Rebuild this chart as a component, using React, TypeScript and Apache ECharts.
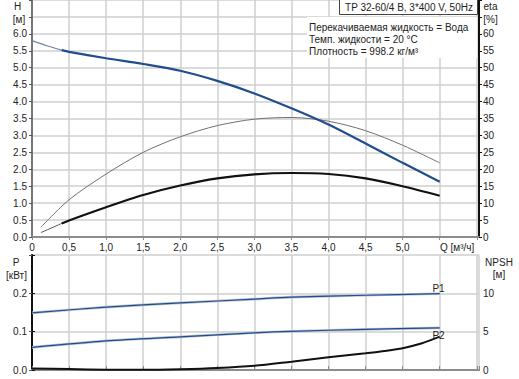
import React, { useEffect, useRef } from "react";
import * as echarts from "echarts";

// ---- Data ----
const qHeadThin = [0, 0.2, 0.4];
const headThin = [5.8, 5.65, 5.52];
const qHead = [0.4, 0.5, 1.0, 1.5, 2.0, 2.5, 3.0, 3.5, 4.0, 4.5, 5.0, 5.5];
const head = [5.52, 5.47, 5.28, 5.11, 4.91, 4.61, 4.24, 3.8, 3.32, 2.76, 2.19, 1.63];

const qEtaPump = [0.12, 0.5, 1.0, 1.5, 2.0, 2.5, 3.0, 3.5, 4.0, 4.5, 5.0, 5.5];
const etaPump = [2.9, 11.0, 18.6, 25.0, 29.6, 32.9, 34.8, 35.3, 34.2, 31.4, 27.1, 21.9];

const qEtaTotalThin = [0.12, 0.4];
const etaTotalThin = [1.3, 4.0];
const qEtaTotal = [0.4, 0.5, 1.0, 1.5, 2.0, 2.5, 3.0, 3.5, 4.0, 4.5, 5.0, 5.5];
const etaTotal = [4.0, 4.9, 8.8, 12.4, 15.2, 17.3, 18.5, 18.9, 18.6, 17.3, 15.0, 12.2];

const qPower = [0, 1, 2, 3, 3.5, 4.5, 5.5];
const powerP1 = [0.149, 0.164, 0.175, 0.185, 0.19, 0.195, 0.199];
const powerP2 = [0.059, 0.076, 0.0865, 0.097, 0.101, 0.106, 0.11];

const qNpsh = [0, 0.5, 1.0, 1.5, 2.0, 2.5, 3.0, 3.5, 4.0, 4.5, 4.75, 5.0, 5.25, 5.5];
const npsh = [0.2, 0.12, 0.04, 0.02, 0.1, 0.26, 0.55, 1.09, 1.66, 2.18, 2.48, 2.85, 3.45, 4.35];

const title = "TP 32-60/4 B, 3*400 V, 50Hz";
const infoLines = [
  "Перекачиваемая жидкость = Вода",
  "Темп. жидкости = 20 °C",
  "Плотность = 998.2 кг/м³",
];

const zip = (xs: number[], ys: number[]) => xs.map((x, i) => [x, ys[i]]);

const FONT = '"Liberation Sans", Arial, sans-serif';
const FS = 10;
const TXT = "#222";
const GRIDC = "#cfcfcf";

export default function App() {
  const ref = useRef<HTMLDivElement>(null);
  useEffect(() => {
    if (!ref.current) return;
    const chart = echarts.init(ref.current, undefined, { renderer: "svg" });
    const split = { show: true, lineStyle: { color: GRIDC, width: 1.5 } };
    const lab = { color: TXT, fontSize: FS, fontFamily: FONT };
    const txt = (text: string, x: number, y: number, align = "center") => ({
      type: "text",
      x,
      y,
      z: 100,
      style: { text, font: `${FS}px ${FONT}`, fill: TXT, align, verticalAlign: "middle" },
    });
    const xFmt = (v: number) => {
      if (v === 0) return "0";
      if (v > 5.25) return "";
      return v.toFixed(1).replace(".", ",");
    };
    const line = (
      name: string,
      data: number[][],
      xi: number,
      yi: number,
      color: string,
      width: number,
      z = 2
    ) => ({
      name,
      type: "line",
      xAxisIndex: xi,
      yAxisIndex: yi,
      data,
      smooth: 0.3,
      symbol: "none",
      z,
      lineStyle: { color, width },
    });
    chart.setOption({
      animation: false,
      grid: [
        { left: 32, right: 40, top: 0, height: 237 },
        { left: 32, right: 40, top: 255, height: 115 },
      ],
      xAxis: [
        {
          gridIndex: 0,
          type: "value",
          min: 0,
          max: 6.03,
          interval: 0.5,
          axisLine: { show: true, lineStyle: { color: "#8c8c8c", width: 2 } },
          axisTick: { show: true, length: 3, lineStyle: { color: "#8c8c8c" } },
          axisLabel: { ...lab, margin: 5, formatter: xFmt, showMaxLabel: false },
          splitLine: split,
        },
        {
          gridIndex: 1,
          type: "value",
          min: 0,
          max: 6.03,
          interval: 0.5,
          axisLine: { show: true, lineStyle: { color: "#8c8c8c", width: 2 } },
          axisTick: { show: false },
          axisLabel: { show: false },
          splitLine: split,
        },
        {
          gridIndex: 1,
          type: "value",
          position: "top",
          min: 0,
          max: 6.03,
          interval: 0.5,
          axisLine: { show: true, lineStyle: { color: "#8c8c8c", width: 2 } },
          axisTick: { show: true, length: 4, lineStyle: { color: "#8c8c8c" } },
          axisLabel: { show: false },
          splitLine: { show: false },
        },
      ],
      yAxis: [
        {
          gridIndex: 0,
          type: "value",
          min: 0,
          max: 7,
          interval: 0.5,
          axisLine: { show: true, lineStyle: { color: "#555", width: 1.5 } },
          axisTick: { show: true, length: 3, lineStyle: { color: "#555" } },
          axisLabel: { ...lab, margin: 5, formatter: (v: number) => (v <= 6.01 ? v.toFixed(1) : "") },
          splitLine: split,
        },
        {
          gridIndex: 0,
          type: "value",
          position: "right",
          min: 0,
          max: 70,
          interval: 5,
          axisLine: { show: true, lineStyle: { color: "#111", width: 2 } },
          axisTick: { show: true, length: 3, lineStyle: { color: "#111" } },
          axisLabel: { ...lab, margin: 4, formatter: (v: number) => (v <= 60 ? String(v) : "") },
          splitLine: { show: false },
        },
        {
          gridIndex: 1,
          type: "value",
          min: 0,
          max: 0.3,
          interval: 0.1,
          axisLine: { show: true, lineStyle: { color: "#555", width: 1.5 } },
          axisTick: { show: true, length: 3, lineStyle: { color: "#555" } },
          axisLabel: { ...lab, margin: 5, formatter: (v: number) => (v < 0.25 ? v.toFixed(1) : "") },
          splitLine: split,
        },
        {
          gridIndex: 1,
          type: "value",
          position: "right",
          min: 0,
          max: 15,
          interval: 5,
          axisLine: { show: true, lineStyle: { color: "#111", width: 2 } },
          axisTick: { show: true, length: 3, lineStyle: { color: "#111" } },
          axisLabel: { ...lab, margin: 4, formatter: (v: number) => (v <= 10 ? String(v) : "") },
          splitLine: { show: false },
        },
      ],
      series: [
        line("H thin", zip(qHeadThin, headThin), 0, 0, "#6f83a3", 1.2),
        line("H", zip(qHead, head), 0, 0, "#1f4e8d", 2.2, 3),
        line("eta pump", zip(qEtaPump, etaPump), 0, 1, "#707070", 1),
        line("eta total thin", zip(qEtaTotalThin, etaTotalThin), 0, 1, "#555", 1),
        line("eta total", zip(qEtaTotal, etaTotal), 0, 1, "#111", 2.2),
        line("P1 halo", zip(qPower, powerP1), 1, 2, "#bcc3cf", 2.6, 1),
        line("P1", zip(qPower, powerP1), 1, 2, "#1f4e8d", 1.2, 2),
        line("P2 halo", zip(qPower, powerP2), 1, 2, "#bcc3cf", 2.6, 1),
        line("P2", zip(qPower, powerP2), 1, 2, "#1f4e8d", 1.2, 2),
        line("NPSH", zip(qNpsh, npsh), 1, 3, "#111", 2, 3),
      ],
      graphic: [
        {
          type: "rect",
          z: 90,
          shape: { x: 307, y: 17, width: 170, height: 41 },
          style: { fill: "#fff" },
        },
        {
          type: "rect",
          z: 90,
          shape: { x: 339.5, y: -1.5, width: 138, height: 16 },
          style: { fill: "#fff", stroke: "#444", lineWidth: 1 },
        },
        txt(title, 409, 7.5),
        txt(infoLines[0], 309, 27, "left"),
        txt(infoLines[1], 309, 39.5, "left"),
        txt(infoLines[2], 309, 51.7, "left"),
        txt("H", 17.5, 6.5),
        txt("[м]", 19, 19),
        txt("eta", 490.5, 6.5),
        txt("[%]", 490.5, 19),
        txt("Q [м³/ч]", 440, 247, "left"),
        txt("P", 16, 262),
        txt("[кВт]", 16.5, 275),
        txt("NPSH", 499, 262),
        txt("[м]", 499, 274.5),
        txt("P1", 438.5, 288),
        txt("P2", 438.5, 335),
      ],
    });
    return () => chart.dispose();
  }, []);
  return (
    <div
      ref={ref}
      style={{ position: "absolute", left: 0, top: 0, width: 519, height: 379 }}
    />
  );
}
